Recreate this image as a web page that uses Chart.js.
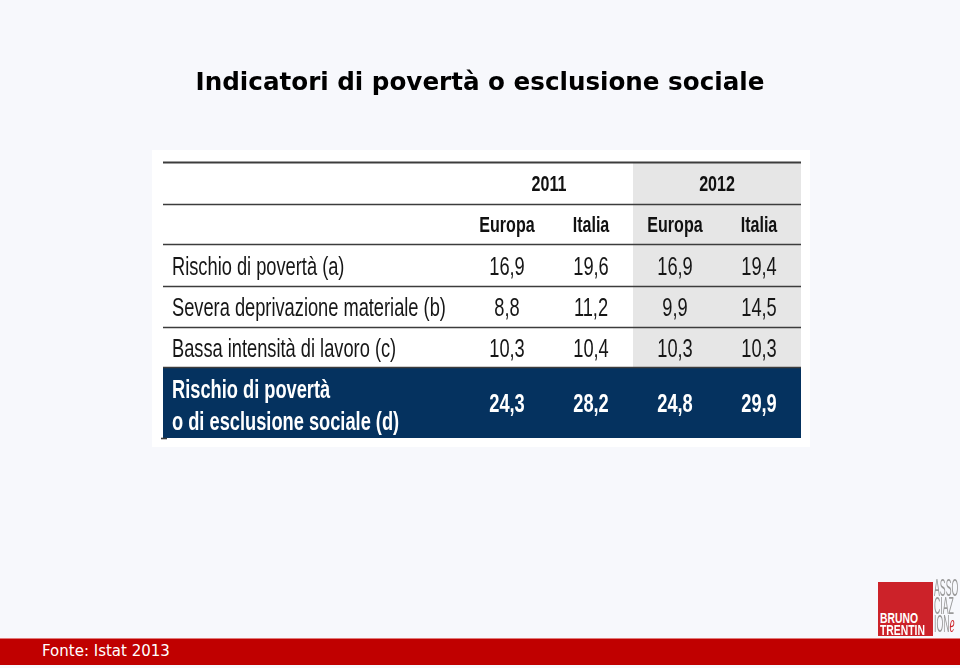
<!DOCTYPE html>
<html>
<head>
<meta charset="utf-8">
<script src="https://cdn.jsdelivr.net/npm/chart.js@4.4.0/dist/chart.umd.min.js"></script>
<style>
  html, body { margin: 0; padding: 0; background: #f7f8fc; }
  #wrap { position: relative; width: 960px; height: 668px; overflow: hidden; }
  #chart { position: absolute; left: 0; top: 0; }
  .title { position: absolute; left: 0; top: 67px; width: 960px; text-align: center;
    font: bold 24.6px "DejaVu Sans", Verdana, sans-serif; color: #000; }
  .footer { position: absolute; left: 0; top: 638px; width: 960px; height: 26px;
    background: #c00000; border-top: 1px solid #e27a7a; }
  .footer span { position: absolute; left: 42px; top: 3px; color: #fff;
    font: 15px "DejaVu Sans", Verdana, sans-serif; }
  .logo-red { position: absolute; left: 878px; top: 582px; width: 55px; height: 54px; background: #cc2229; }
  .logo-red span { position: absolute; left: 2px; color: #fff; font: bold 14px "Liberation Sans", Arial, sans-serif;
    line-height: 12px; transform: scaleX(0.74); transform-origin: left top; }
  .logo-txt { position: absolute; left: 934px; top: 579px; color: #9a9a9a; font: 23px "Liberation Sans", Arial, sans-serif;
    line-height: 18px; transform: scaleX(0.38); transform-origin: left top; }
  .logo-txt i { color: #cc2229; font-family: "DejaVu Serif", serif; }
</style>
</head>
<body>
<div id="wrap">
  <canvas id="chart" width="960" height="668"></canvas>
  <div class="title">Indicatori di povertà o esclusione sociale</div>
  <div class="logo-red"><span style="top:30px">BRUNO</span><span style="top:42px">TRENTIN</span></div>
  <div class="logo-txt">ASSO<br>CIAZ<br>ION<i>e</i></div>
  <div class="footer"><span>Fonte: Istat 2013</span></div>
</div>
<script>
// table data
const years = ["2011", "2012"];
const countries = ["Europa", "Italia", "Europa", "Italia"];
const indicators = [
  "Rischio di povertà (a)",
  "Severa deprivazione materiale (b)",
  "Bassa intensità di lavoro (c)",
  "Rischio di povertà\no di esclusione sociale (d)"
];
const europa2011 = [16.9, 8.8, 10.3, 24.3];
const italia2011 = [19.6, 11.2, 10.4, 28.2];
const europa2012 = [16.9, 9.9, 10.3, 24.8];
const italia2012 = [19.4, 14.5, 10.3, 29.9];

const columns = [europa2011, italia2011, europa2012, italia2012];

// row heights in y-scale units: year header, country header, 4 indicator rows
const rowUnits = [42, 40, 42, 41, 40, 71];
const labelColWidth = 302;
const sans = '"Liberation Sans", Arial, sans-serif';
const squeeze = 0.73; // the source table uses a condensed face

const fmt = v => v.toFixed(1).replace(".", ",");

function rowEdge(y, i) {
  let s = 0;
  for (let k = 0; k < i; k++) s += rowUnits[k];
  return y.getPixelForValue(s);
}

function colEdge(x, i) {
  // boundary between column i-1 and i
  if (i <= 0) return x.left;
  if (i >= countries.length) return x.right;
  return (x.getPixelForValue(i - 1) + x.getPixelForValue(i)) / 2;
}

function text(ctx, str, px, py, font, color, align) {
  ctx.save();
  ctx.font = font;
  ctx.fillStyle = color;
  ctx.textAlign = align || "center";
  ctx.textBaseline = "middle";
  ctx.translate(px, py);
  ctx.scale(squeeze, 1);
  ctx.fillText(str, 0, 0);
  ctx.restore();
}

const tablePlugin = {
  id: "tablePlugin",
  afterDraw(chart) {
    const { ctx, chartArea: a, scales: { x, y } } = chart;
    const left = a.left - labelColWidth;
    const nRows = rowUnits.length;

    // white panel
    ctx.fillStyle = "#ffffff";
    ctx.fillRect(left - 11, a.top - 12, a.right - left + 20, a.bottom - a.top + 21);

    // grey shading behind 2012 columns
    ctx.fillStyle = "#e6e6e6";
    ctx.fillRect(colEdge(x, 2), rowEdge(y, 0), x.right - colEdge(x, 2), rowEdge(y, nRows - 1) - rowEdge(y, 0));

    // highlighted last row
    ctx.fillStyle = "#05325f";
    ctx.fillRect(left, rowEdge(y, nRows - 1), a.right - left, rowEdge(y, nRows) - rowEdge(y, nRows - 1));

    // rules
    ctx.strokeStyle = "#3c3c3c";
    for (let i = 0; i < nRows; i++) {
      const yy = Math.round(rowEdge(y, i)) + 0.5;
      ctx.lineWidth = i === 0 ? 2 : 1.6;
      ctx.beginPath();
      ctx.moveTo(left, yy);
      ctx.lineTo(a.right, yy);
      ctx.stroke();
    }
    ctx.beginPath();
    ctx.moveTo(left - 2, rowEdge(y, nRows) + 0.5);
    ctx.lineTo(left + 4, rowEdge(y, nRows) + 0.5);
    ctx.stroke();

    const mid = i => (rowEdge(y, i) + rowEdge(y, i + 1)) / 2;

    // year header
    years.forEach((yr, j) => {
      const cx = (x.getPixelForValue(j * 2) + x.getPixelForValue(j * 2 + 1)) / 2;
      text(ctx, yr, cx, mid(0) + 2, "bold 22px " + sans, "#111");
    });
    // country header
    countries.forEach((c, j) => {
      text(ctx, c, x.getPixelForValue(j), mid(1) + 2, "bold 22px " + sans, "#111");
    });

    // indicator rows
    indicators.forEach((lab, r) => {
      const last = r === indicators.length - 1;
      const row = r + 2;
      const col = last ? "#ffffff" : "#161616";
      const font = (last ? "bold " : "") + "25px " + sans;
      const lines = lab.split("\n");
      if (lines.length === 1) {
        text(ctx, lab, left + 9, mid(row) + 3, font, col, "left");
      } else {
        text(ctx, lines[0], left + 9, mid(row) - 11, font, col, "left");
        text(ctx, lines[1], left + 9, mid(row) + 21, font, col, "left");
      }
      columns.forEach((vals, j) => {
        text(ctx, fmt(vals[r]), x.getPixelForValue(j), mid(row) + 3, font, col);
      });
    });
  }
};

new Chart(document.getElementById("chart"), {
  type: "bar",
  data: {
    labels: countries.map((c, j) => c + " " + years[j < 2 ? 0 : 1]),
    datasets: []
  },
  options: {
    responsive: false,
    animation: false,
    layout: { padding: { left: 465, right: 159, top: 162, bottom: 230 } },
    plugins: { legend: { display: false }, tooltip: { enabled: false } },
    scales: {
      x: { type: "category", display: false, offset: true },
      y: { type: "linear", display: false, reverse: true, min: 0, max: rowUnits.reduce((s, v) => s + v, 0) }
    }
  },
  plugins: [tablePlugin]
});
</script>
</body>
</html>
